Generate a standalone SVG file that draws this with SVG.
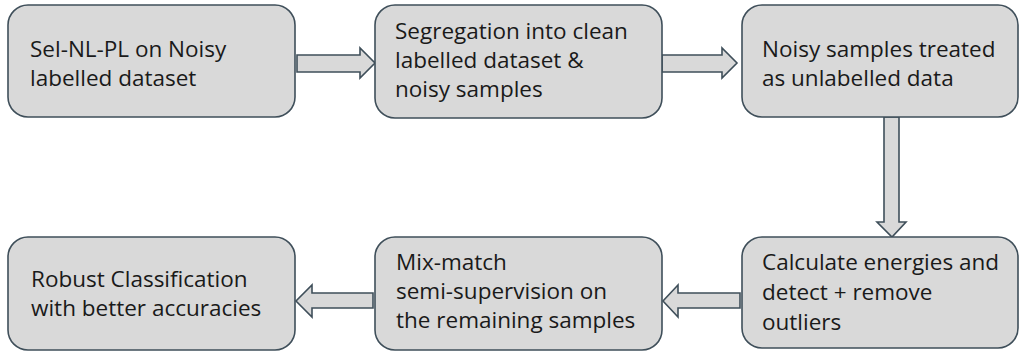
<svg xmlns="http://www.w3.org/2000/svg" width="1020" height="354" viewBox="0 0 1020 354">
<style>
.box{fill:#d9d9d9;stroke:#3f4f5a;stroke-width:1.6}
.arr{fill:#d9d9d9;stroke:#3f4f5a;stroke-width:1.6;stroke-linejoin:miter}
.t{font-family:"Open Sans","Liberation Sans",sans-serif;font-size:22.5px;fill:#1a1a1a}
</style>
<rect width="1020" height="354" fill="#ffffff"/>
<g id="connectors">
<polygon class="arr" points="297,55 360,55 360,48 375,63 360,78 360,72 297,72"/>
<polygon class="arr" points="662,55 722,55 722,48 737,63 722,78 722,72 662,72"/>
<polygon class="arr" points="884,117 899,117 899,222 906,222 892,237 877,222 884,222"/>
<polygon class="arr" points="740,293 678,293 678,285 663,301 678,317 678,308 740,308"/>
<polygon class="arr" points="373,293 312,293 312,285 296,301 312,317 312,308 373,308"/>
</g>
<g id="n1">
<rect class="box" x="8" y="5" width="287" height="112" rx="20"/>
<text class="t" x="30" y="57">Sel-NL-PL on Noisy</text>
<text class="t" x="30" y="86">labelled dataset</text>
</g>
<g id="n2">
<rect class="box" x="375" y="5" width="287" height="113" rx="20"/>
<text class="t" x="395" y="39">Segregation into clean</text>
<text class="t" x="395" y="68">labelled dataset &amp;</text>
<text class="t" x="395" y="97">noisy samples</text>
</g>
<g id="n3">
<rect class="box" x="742" y="5" width="276" height="112" rx="20"/>
<text class="t" x="762" y="57">Noisy samples treated</text>
<text class="t" x="762" y="86">as unlabelled data</text>
</g>
<g id="n6">
<rect class="box" x="742" y="237" width="276" height="111" rx="20"/>
<text class="t" x="762" y="270">Calculate energies and</text>
<text class="t" x="762" y="300">detect + remove</text>
<text class="t" x="762" y="330">outliers</text>
</g>
<g id="n5">
<rect class="box" x="375" y="237" width="287" height="113" rx="20"/>
<text class="t" x="396" y="270">Mix-match</text>
<text class="t" x="396" y="299">semi-supervision on</text>
<text class="t" x="396" y="328">the remaining samples</text>
</g>
<g id="n4">
<rect class="box" x="8" y="237" width="287" height="113" rx="20"/>
<text class="t" x="31" y="287">Robust Classification</text>
<text class="t" x="31" y="316">with better accuracies</text>
</g>
</svg>
